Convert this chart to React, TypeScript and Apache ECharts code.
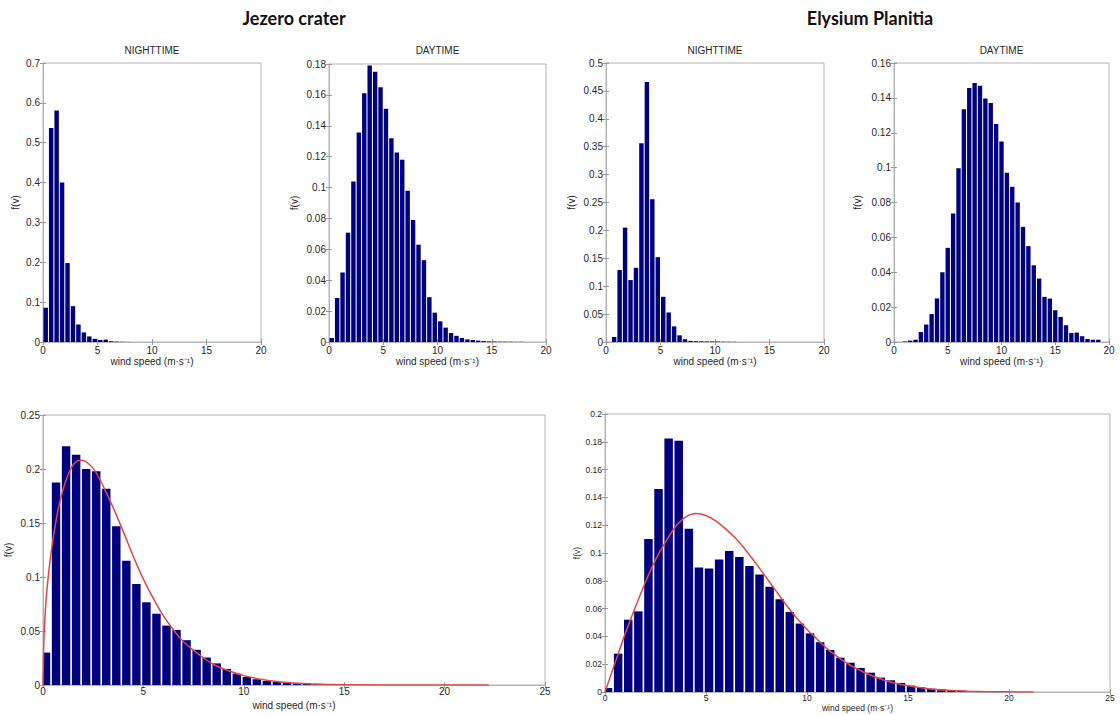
import React, { useEffect, useRef } from "react";
import * as echarts from "echarts";

// ---------- categories (histogram bin centres, m/s) ----------
const topBinCenters = [
  0.25, 0.75, 1.25, 1.75, 2.25, 2.75, 3.25, 3.75, 4.25, 4.75, 5.25, 5.75, 6.25, 6.75, 7.25, 7.75,
  8.25, 8.75, 9.25, 9.75, 10.25, 10.75, 11.25, 11.75, 12.25, 12.75, 13.25, 13.75, 14.25, 14.75,
  15.25, 15.75, 16.25, 16.75, 17.25, 17.75, 18.25, 18.75, 19.25, 19.75,
];
const elysiumDayBinCenters = [
  0, 0.5, 1, 1.5, 2, 2.5, 3, 3.5, 4, 4.5, 5, 5.5, 6, 6.5, 7, 7.5, 8, 8.5, 9, 9.5, 10, 10.5, 11,
  11.5, 12, 12.5, 13, 13.5, 14, 14.5, 15, 15.5, 16, 16.5, 17, 17.5, 18, 18.5, 19,
];
const bottomBinCenters = [
  0.15, 0.65, 1.15, 1.65, 2.15, 2.65, 3.15, 3.65, 4.15, 4.65, 5.15, 5.65, 6.15, 6.65, 7.15, 7.65,
  8.15, 8.65, 9.15, 9.65, 10.15, 10.65, 11.15, 11.65, 12.15, 12.65, 13.15, 13.65, 14.15, 14.65,
  15.15, 15.65, 16.15, 16.65, 17.15, 17.65, 18.15, 18.65, 19.15, 19.65, 20.15,
];

// ---------- series values f(v) ----------
const jezeroNight = [
  0.086, 0.537, 0.581, 0.4, 0.198, 0.09, 0.044, 0.024, 0.014, 0.008, 0.005, 0.006, 0.002, 0.001,
  0.0005, 0.0003,
];
const jezeroDay = [
  0.0026, 0.0285, 0.045, 0.0708, 0.104, 0.1357, 0.161, 0.179, 0.175, 0.165, 0.151, 0.132, 0.1227,
  0.118, 0.098, 0.079, 0.063, 0.053, 0.029, 0.019, 0.0134, 0.0093, 0.0058, 0.004, 0.0026, 0.0017,
  0.0013, 0.0009, 0.0006, 0.0004, 0.0003, 0.0002, 0.0002, 0.0001, 0.0001, 0.0001,
];
const elysiumNight = [
  0, 0.009, 0.129, 0.205, 0.111, 0.133, 0.356, 0.466, 0.256, 0.152, 0.081, 0.053, 0.028, 0.012,
  0.005, 0.002, 0.0015, 0.0012, 0.001, 0.001, 0.0008, 0.0005, 0.0004, 0.0003,
];
const elysiumDay = [
  0, 0, 0.0003, 0.0008, 0.0013, 0.0057, 0.01, 0.016, 0.025, 0.04, 0.054, 0.0737, 0.0996, 0.1335,
  0.1456, 0.1485, 0.147, 0.1397, 0.137, 0.125, 0.115, 0.097, 0.089, 0.08, 0.066, 0.055, 0.044,
  0.0364, 0.0259, 0.0249, 0.0182, 0.0144, 0.0096, 0.0052, 0.0054, 0.0033, 0.0017, 0.0013, 0.0013,
];
const jezeroAll = [
  0.03, 0.1876, 0.221, 0.2133, 0.2, 0.198, 0.1817, 0.147, 0.115, 0.0936, 0.0766, 0.066, 0.055,
  0.051, 0.0415, 0.0326, 0.0254, 0.02, 0.0149, 0.0105, 0.0074, 0.0053, 0.0037, 0.0028, 0.0022,
  0.0015, 0.0012, 0.0008, 0.0006, 0.0004, 0.0003, 0.0002,
];
const elysiumAll = [
  0.0029, 0.0276, 0.052, 0.058, 0.11, 0.146, 0.1824, 0.1807, 0.1174, 0.0895, 0.0888, 0.0953,
  0.1015, 0.0972, 0.0907, 0.0845, 0.0758, 0.0667, 0.0576, 0.0492, 0.0422, 0.0358, 0.0302, 0.0247,
  0.0211, 0.0173, 0.0139, 0.0103, 0.0084, 0.0065, 0.0046, 0.0034, 0.0024, 0.0019, 0.0014, 0.001,
  0.0007, 0.0005, 0.0003, 0.0002, 0.0001,
];

// ---------- fitted curves ----------
const jezeroFitSpeed = [
  0, 0.05, 0.15, 0.3, 0.5, 0.75, 1, 1.3, 1.6, 1.9, 2.2, 2.6, 3, 3.5, 4, 4.5, 5, 5.5, 6, 6.5, 7,
  7.5, 8, 8.5, 9, 10, 11, 12, 13, 14, 15, 17, 22.2,
];
const jezeroFitF = [
  0, 0.045, 0.078, 0.107, 0.135, 0.162, 0.181, 0.197, 0.206, 0.208, 0.206, 0.198, 0.184, 0.164,
  0.142, 0.119, 0.098, 0.08, 0.064, 0.051, 0.04, 0.032, 0.025, 0.019, 0.0148, 0.0087, 0.0049,
  0.0026, 0.0013, 0.0006, 0.00028, 0.00005, 0,
];
const elysiumFitSpeed = [
  0, 0.5, 1, 1.5, 2, 2.5, 3, 3.5, 4, 4.5, 5, 5.5, 6, 6.5, 7, 7.5, 8, 8.5, 9, 9.5, 10, 10.5, 11,
  11.5, 12, 12.5, 13, 14, 15, 16, 17, 18, 19, 20, 21.2,
];
const elysiumFitF = [
  0, 0.021, 0.042, 0.061, 0.079, 0.095, 0.108, 0.119, 0.126, 0.1285, 0.127, 0.123, 0.117, 0.11,
  0.1015, 0.092, 0.082, 0.072, 0.062, 0.053, 0.045, 0.038, 0.031, 0.0255, 0.0205, 0.0165, 0.013,
  0.0078, 0.0045, 0.0024, 0.0012, 0.0006, 0.00025, 0.0001, 0,
];

// ---------- tick settings ----------
const topXMax = 20;
const bottomXMax = 25;
const xTickStep = 5;
const panelYMax = [0.7, 0.18, 0.5, 0.16, 0.25, 0.2];
const panelYStep = [0.1, 0.02, 0.05, 0.02, 0.05, 0.02];
const groupTitles = ["Jezero crater", "Elysium Planitia"];
const panelTitles = ["NIGHTTIME", "DAYTIME", "NIGHTTIME", "DAYTIME"];
const xName = "wind speed (m\u00b7s\u207b\u00b9)";
const yName = "f(v)";

const NAVY = "#00007d";
const RED = "#e04848";
const BOX = "#b4b4b4";
const TXT = "#262626";
const FONT = "'Liberation Sans', Arial, sans-serif";

// layout of each panel
const layouts = [
  { left: 43, top: 63, width: 218, height: 279, font: 10, yGap: 23, xGap: 14 },
  { left: 329, top: 64, width: 217, height: 278, font: 10, yGap: 30, xGap: 14 },
  { left: 606, top: 63, width: 218, height: 279, font: 10, yGap: 30, xGap: 14 },
  { left: 894, top: 63, width: 215, height: 279, font: 10, yGap: 32, xGap: 14 },
  { left: 43, top: 415, width: 502, height: 270, font: 10, yGap: 30, xGap: 15 },
  { left: 605, top: 414, width: 505, height: 278, font: 8.5, yGap: 23, xGap: 11 },
];

function fmt(v: number) {
  return String(+v.toFixed(4));
}

function buildOption() {
  const grids: any[] = [];
  const xAxes: any[] = [];
  const yAxes: any[] = [];
  const series: any[] = [];

  layouts.forEach((l, g) => {
    grids.push({
      left: l.left,
      top: l.top,
      width: l.width,
      height: l.height,
      show: true,
      borderColor: BOX,
      borderWidth: 1,
      backgroundColor: "#fff",
      containLabel: false,
    });
    const xMax = g < 4 ? topXMax : bottomXMax;
    const baseX = {
      type: "value",
      gridIndex: g,
      min: 0,
      max: xMax,
      interval: xTickStep,
      splitLine: { show: false },
      axisLine: { show: true, lineStyle: { color: BOX, width: 1 } },
      axisTick: { show: true, inside: true, length: 3, lineStyle: { color: "#999" } },
    };
    xAxes.push({
      ...baseX,
      position: "bottom",
      axisLabel: { fontSize: l.font, color: TXT, fontFamily: FONT, margin: g < 4 ? 3 : 1 },
      name: xName,
      nameLocation: "middle",
      nameGap: l.xGap,
      nameTextStyle: { fontSize: l.font, color: TXT, fontFamily: FONT },
    });
    xAxes.push({ ...baseX, position: "top", axisLabel: { show: false } });

    const baseY = {
      type: "value",
      gridIndex: g,
      min: 0,
      max: panelYMax[g],
      interval: panelYStep[g],
      splitLine: { show: false },
      axisLine: { show: true, lineStyle: { color: BOX, width: 1 } },
      axisTick: { show: true, inside: true, length: 3, lineStyle: { color: "#999" } },
    };
    yAxes.push({
      ...baseY,
      position: "left",
      axisLabel: {
        fontSize: l.font,
        color: TXT,
        fontFamily: FONT,
        margin: 3,
        formatter: (v: number) => fmt(v),
      },
      name: yName,
      nameLocation: "middle",
      nameGap: l.yGap,
      nameRotate: 90,
      nameTextStyle: { fontSize: l.font, color: TXT, fontFamily: FONT },
    });
    yAxes.push({ ...baseY, position: "right", axisLabel: { show: false } });
  });

  const histSets = [
    { centers: topBinCenters, values: jezeroNight },
    { centers: topBinCenters, values: jezeroDay },
    { centers: topBinCenters, values: elysiumNight },
    { centers: elysiumDayBinCenters, values: elysiumDay },
    { centers: bottomBinCenters, values: jezeroAll },
    { centers: bottomBinCenters, values: elysiumAll },
  ];
  const halfBin = 0.25;

  histSets.forEach((h, g) => {
    const inset = g < 4 ? 0.5 : 0.8;
    series.push({
      type: "custom",
      xAxisIndex: 2 * g,
      yAxisIndex: 2 * g,
      encode: { x: 0, y: 1 },
      data: h.values.map((v, i) => [h.centers[i], v]),
      renderItem: (params: any, api: any) => {
        const c = api.value(0);
        const v = api.value(1);
        const p0 = api.coord([c - halfBin, v]);
        const p1 = api.coord([c + halfBin, 0]);
        const rect = {
          x: p0[0] + inset,
          y: p0[1],
          width: Math.max(0, p1[0] - p0[0] - 2 * inset),
          height: p1[1] - p0[1],
        };
        const cs = params.coordSys;
        const clipped = echarts.graphic.clipRectByRect(rect, {
          x: cs.x,
          y: cs.y,
          width: cs.width,
          height: cs.height,
        });
        if (!clipped) return null;
        return { type: "rect", shape: clipped, style: { fill: NAVY } };
      },
      silent: true,
    });
  });

  const fits = [
    { g: 4, xs: jezeroFitSpeed, ys: jezeroFitF },
    { g: 5, xs: elysiumFitSpeed, ys: elysiumFitF },
  ];
  fits.forEach((f) => {
    series.push({
      type: "line",
      xAxisIndex: 2 * f.g,
      yAxisIndex: 2 * f.g,
      data: f.xs.map((x, i) => [x, f.ys[i]]),
      showSymbol: false,
      smooth: 0.3,
      lineStyle: { color: RED, width: 1.5 },
      z: 5,
      silent: true,
    });
  });

  const graphics: any[] = [];
  const groupCenters = [294, 870];
  groupTitles.forEach((t, i) => {
    graphics.push({
      type: "text",
      x: groupCenters[i],
      y: 18,
      style: {
        text: t,
        fill: "#111",
        font: "bold 18px Lato, 'Open Sans', sans-serif",
        textAlign: "center",
        textVerticalAlign: "middle",
      },
    });
  });
  panelTitles.forEach((t, i) => {
    const l = layouts[i];
    graphics.push({
      type: "text",
      x: l.left + l.width / 2,
      y: 50,
      style: {
        text: t,
        fill: TXT,
        font: `10px ${FONT}`,
        textAlign: "center",
        textVerticalAlign: "middle",
      },
    });
  });

  return {
    animation: false,
    backgroundColor: "#fff",
    grid: grids,
    xAxis: xAxes,
    yAxis: yAxes,
    series,
    graphic: graphics,
  };
}

export default function App() {
  const ref = useRef<HTMLDivElement>(null);
  useEffect(() => {
    document.body.style.margin = "0";
    if (!ref.current) return;
    const chart = echarts.init(ref.current, undefined, { renderer: "svg" });
    chart.setOption(buildOption() as any);
    return () => chart.dispose();
  }, []);
  return <div ref={ref} style={{ width: 1120, height: 715 }} />;
}
